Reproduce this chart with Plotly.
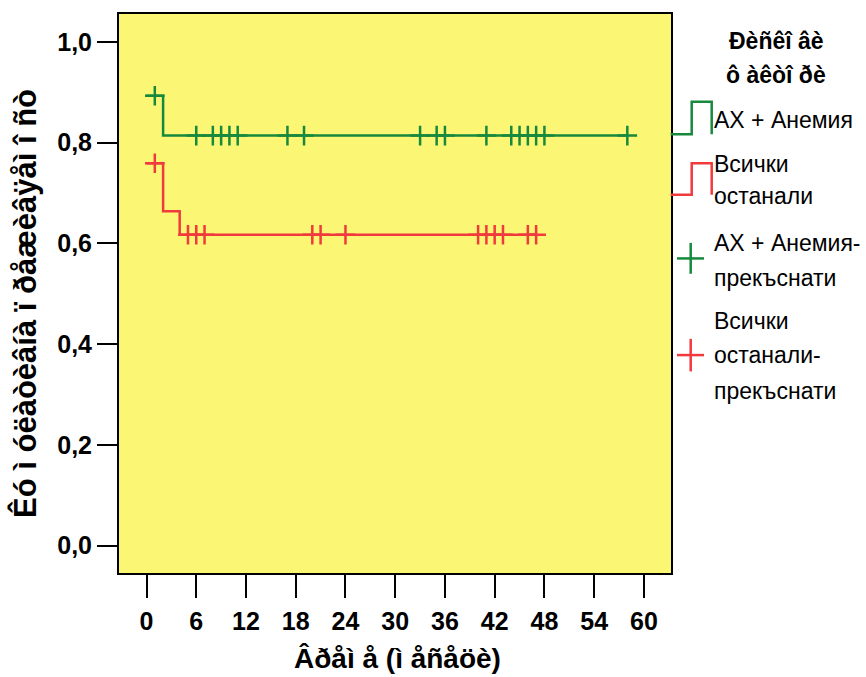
import plotly.graph_objects as go

# Kaplan-Meier step curves (time in months, cumulative survival)
green_name = "AX + Анемия"
green_step_t = [0, 2, 58]
green_step_s = [0.893, 0.814, 0.814]
green_censor_t = [1, 6, 8, 9, 10, 11, 17, 19, 33, 35, 36, 41, 44, 45, 46, 47, 48, 58]

red_name = "Всички останали"
red_step_t = [0, 2, 4, 47]
red_step_s = [0.759, 0.664, 0.617, 0.617]
red_censor_t = [1, 5, 6, 7, 20, 21, 24, 40, 41, 42, 43, 46, 47]

x_ticks = [0, 6, 12, 18, 24, 30, 36, 42, 48, 54, 60]
y_ticks = [0.0, 0.2, 0.4, 0.6, 0.8, 1.0]
y_ticktext = ["0,0", "0,2", "0,4", "0,6", "0,8", "1,0"]

NB = "\u00a0"
x_title = f"Âðåì{NB}å{NB}(ì{NB}åñåöè)"
y_title = f"Êó{NB}ì{NB}óëàòèâíà{NB}ï{NB}ðåæèâÿåì{NB}î{NB}ñò"
legend_title = [f"Ðèñêî{NB}âè", f"ô{NB}àêòî{NB}ðè"]

GREEN = "#17893d"
RED = "#f03a3d"
YELLOW = "#fbf775"

W, H = 866, 677
L, R, T, B = 119, 671, 12, 573


def s_at(step_t, step_s, t):
    val = step_s[0]
    for tt, ss in zip(step_t, step_s):
        if t >= tt:
            val = ss
    return val


def px(x):
    return (x - L) / (R - L)


def py(y):
    return (B - y) / (B - T)


fig = go.Figure()

for name, st, ss, ct, col in [
    (green_name, green_step_t, green_step_s, green_censor_t, GREEN),
    (red_name, red_step_t, red_step_s, red_censor_t, RED),
]:
    fig.add_trace(go.Scatter(
        x=st, y=ss, mode="lines", line=dict(color=col, width=2.5, shape="hv"),
        name=name, showlegend=False, hoverinfo="skip",
    ))
    fig.add_trace(go.Scatter(
        x=ct, y=[s_at(st, ss, t) for t in ct], mode="markers",
        marker=dict(symbol="cross-thin", size=14, line=dict(color=col, width=2.5)),
        name=name + "-прекъснати", showlegend=False,
    ))

TICK_FONT = dict(family="Liberation Sans, Arial", size=25, color="black", weight="bold")

fig.update_layout(
    width=W, height=H,
    margin=dict(l=L, r=W - R, t=T, b=H - B, pad=0),
    paper_bgcolor="white",
    plot_bgcolor=YELLOW,
    showlegend=False,
    xaxis=dict(
        range=[-3.32, 63.27], tickvals=x_ticks, ticks="outside", ticklen=23,
        tickwidth=2, tickcolor="black", showgrid=False, zeroline=False,
        showline=True, linecolor="black", linewidth=2, mirror=True,
        tickfont=TICK_FONT, ticklabelstandoff=2,
    ),
    yaxis=dict(
        range=[-0.0544, 1.0554], tickvals=y_ticks, ticktext=y_ticktext,
        ticks="outside", ticklen=20, tickwidth=2, tickcolor="black",
        showgrid=False, zeroline=False, showline=True, linecolor="black",
        linewidth=2, mirror=True, tickfont=TICK_FONT,
    ),
)

X_TITLE_FONT = dict(family="Liberation Sans, Arial", size=28, color="black", weight="bold")
Y_TITLE_FONT = dict(family="Liberation Sans, Arial", size=31, color="black", weight="bold")
LEG_FONT = dict(family="Liberation Sans, Arial", size=23, color="black")
LEG_TITLE_FONT = dict(family="Liberation Sans, Arial", size=23, color="black", weight="bold")

ann = [
    dict(x=px(397), y=py(659), text=x_title, font=X_TITLE_FONT),
    dict(x=px(25), y=py(303), text=y_title, font=Y_TITLE_FONT, textangle=-90),
    dict(x=px(776), y=py(39), text=legend_title[0], font=LEG_TITLE_FONT),
    dict(x=px(776), y=py(73), text=legend_title[1], font=LEG_TITLE_FONT),
]
legend_lines = [
    ("AX + Анемия", 118),
    ("Всички", 163),
    ("останали", 195),
    ("AX + Анемия-", 242),
    ("прекъснати", 277),
    ("Всички", 320),
    ("останали-", 354),
    ("прекъснати", 390),
]
for txt, yc in legend_lines:
    ann.append(dict(x=px(712), y=py(yc), text=txt, font=LEG_FONT, xanchor="left"))

for a in ann:
    a.update(xref="paper", yref="paper", showarrow=False)
    a.setdefault("xanchor", "center")
    a.setdefault("yanchor", "middle")
fig.update_layout(annotations=ann)


def step_glyph(x0, x1, x2, ylow, yhigh):
    return (f"M {px(x0)},{py(ylow)} L {px(x1)},{py(ylow)} L {px(x1)},{py(yhigh)} "
            f"L {px(x2)},{py(yhigh)} L {px(x2)},{py(ylow)}")


shapes = [
    dict(type="path", path=step_glyph(670.7, 691.7, 711.7, 132.7, 100),
         line=dict(color=GREEN, width=2.5)),
    dict(type="path", path=step_glyph(670.7, 691.7, 711.7, 193.5, 161.7),
         line=dict(color=RED, width=2.5)),
    # censor symbols of the legend
    dict(type="line", x0=px(677), x1=px(704), y0=py(257.3), y1=py(257.3), line=dict(color=GREEN, width=2.5)),
    dict(type="line", x0=px(690.7), x1=px(690.7), y0=py(241.7), y1=py(272.7), line=dict(color=GREEN, width=2.5)),
    dict(type="line", x0=px(677), x1=px(704), y0=py(354.3), y1=py(354.3), line=dict(color=RED, width=2.5)),
    dict(type="line", x0=px(690.7), x1=px(690.7), y0=py(338), y1=py(370.7), line=dict(color=RED, width=2.5)),
]
for s in shapes:
    s.update(xref="paper", yref="paper", layer="above")
fig.update_layout(shapes=shapes)

fig.write_html("out.html")
